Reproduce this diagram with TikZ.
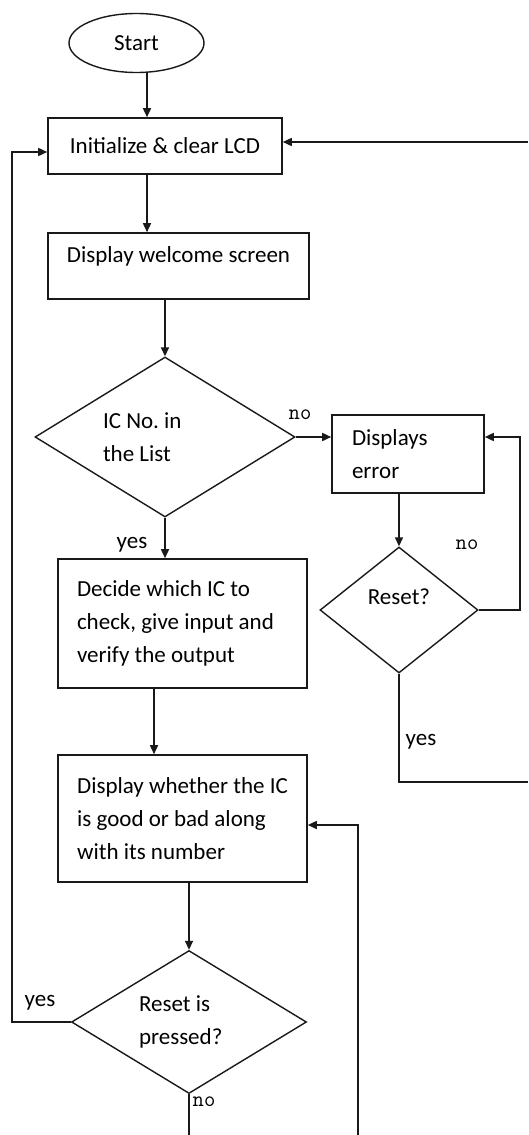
\documentclass[tikz,border=0pt]{standalone}
\usepackage{fontspec}
\setmainfont{Carlito}
\usetikzlibrary{shapes.geometric,arrows.meta}
\frenchspacing
\begin{document}
\begin{tikzpicture}[x=1pt,y=-1pt,
  every node/.style={font=\fontsize{23}{33}\selectfont},
  ln/.style={line width=1.6pt,draw=black!90},
  arr/.style={ln,-{Triangle[length=9pt,width=8pt]}},
  boxnode/.style={draw=black!90,line width=1.6pt,rectangle,inner sep=0pt},
  decnode/.style={draw=black!90,line width=1.4pt,diamond,inner sep=0pt},
  monolbl/.style={font=\ttfamily\fontsize{22}{24}\selectfont,inner sep=0pt},
  sanslbl/.style={font=\fontsize{23}{28}\selectfont,inner sep=0pt}
]
\useasboundingbox (0,0) rectangle (528,1135);

% nodes
\node[draw=black!90,line width=1.4pt,ellipse,minimum width=135,minimum height=59,inner sep=0pt] (start) at (136.5,43) {Start};
\node[boxnode,minimum width=234,minimum height=56] (lcd) at (165,146) {Initialize \& clear LCD};
\node[boxnode,minimum width=261,minimum height=66,text depth=23pt] (welcome) at (178.5,266) {Display welcome screen};
\node[decnode,minimum width=260,minimum height=160,aspect=1.625,text width=124,align=flush left] (d1) at (165,437) {IC No. in\\the List};
\node[boxnode,minimum width=152,minimum height=78,text width=112,align=flush left] (err) at (408,454) {Displays\\error};
\node[decnode,minimum width=158,minimum height=126,aspect=1.25,text depth=26pt] (d2) at (399,610) {Reset?};
\node[boxnode,minimum width=249,minimum height=129,text width=211,align=flush left] (decide) at (182.5,623.5) {Decide which IC to\\check, give input and\\verify the output};
\node[boxnode,minimum width=249,minimum height=127,align=left] (display) at (182.5,818.5) {Display whether the IC\\is good or bad along\\with its number};
\node[decnode,minimum width=235,minimum height=143,aspect=1.64,text width=100,align=flush left] (d3) at (189,1022) {Reset is\\pressed?};

% labels
\node[monolbl] (lno1) at (300,415) {\ttfamily no};
\node[sanslbl] (lyes1) at (132,545) {yes};
\node[monolbl] (lno2) at (467,545) {\ttfamily no};
\node[sanslbl] (lyes2) at (421,742) {yes};
\node[sanslbl] (lyes3) at (40,1003) {yes};
\node[monolbl] (lno3) at (204,1102) {\ttfamily no};

% coordinates for loops and cut ends
\coordinate (topin) at (528,142);
\coordinate (errloop) at (520,437);
\coordinate (yesout) at (528,782);
\coordinate (leftloop) at (12,152);
\coordinate (noout) at (189,1135);
\coordinate (rin) at (358,1135);
\coordinate (rturn) at (358,825);

% connectors
\draw[arr] ([xshift=10.5pt]start.south) -- ([xshift=10.5pt]start.south |- lcd.north);
\draw[arr] (topin) -- (lcd.east |- topin);
\draw[arr] ([xshift=-18pt]lcd.south) -- ([xshift=-18pt]lcd.south |- welcome.north);
\draw[arr] (welcome.south -| d1.north) -- (d1.north);
\draw[arr] (d1.east) -- (err.west |- d1.east);
\draw[arr] (err.south -| d2.north) -- (d2.north);
\draw[arr] (d2.east) -| (errloop) -- (err.east |- errloop);
\draw[ln] (d2.south) |- (yesout);
\draw[arr] (d1.south) -- (d1.south |- decide.north);
\draw[arr] ([xshift=-28.5pt]decide.south) -- ([xshift=-28.5pt]decide.south |- display.north);
\draw[arr] (display.south -| d3.north) -- (d3.north);
\draw[arr] (d3.west) -| (leftloop) -- (lcd.west |- leftloop);
\draw[ln] (d3.south) -- (noout);
\draw[arr] (rin) -- (rturn) -- (display.east |- rturn);
\end{tikzpicture}
\end{document}
